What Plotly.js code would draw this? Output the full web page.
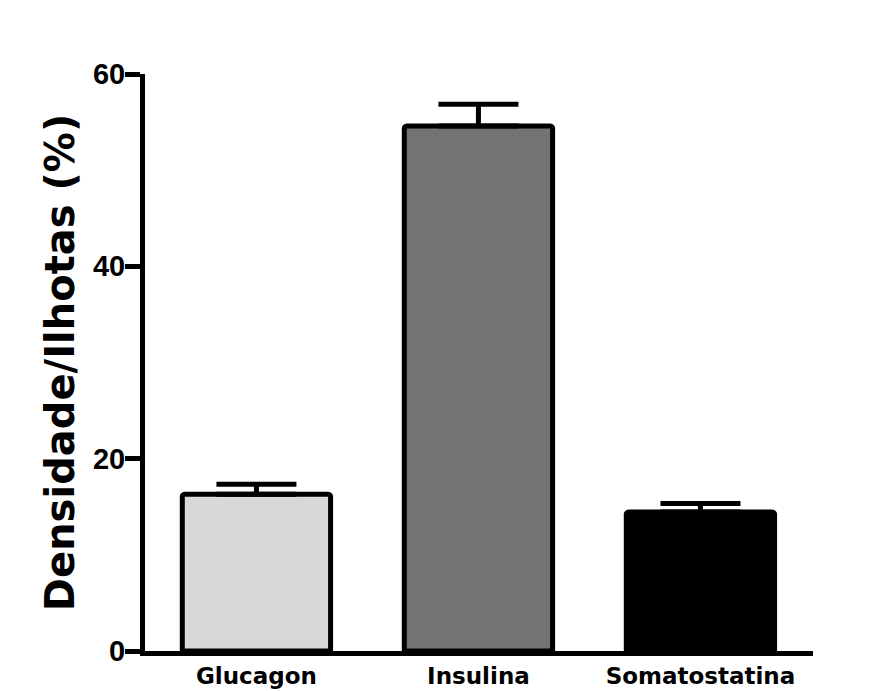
<!DOCTYPE html>
<html>
<head>
<meta charset="utf-8">
<script src="https://cdn.plot.ly/plotly-3.0.1.min.js"></script>
<style>
  html, body { margin: 0; padding: 0; background: #ffffff; }
  #chart { width: 889px; height: 691px; }
</style>
</head>
<body>
<div id="chart"></div>
<script>
// Islet cell density by hormone (mean + upper error)
const categories = ['Glucagon', 'Insulina', 'Somatostatina'];
const densidade = [16.3, 54.6, 14.45];
const erro = [1.05, 2.25, 0.9];
const barColors = ['#d8d8d8', '#737373', '#000000'];
const yTicks = [0, 20, 40, 60];

const trace = {
  type: 'bar',
  x: [0, 1, 2],
  y: densidade,
  width: 0.668,
  marker: {
    color: barColors,
    line: { color: '#000000', width: 5 },
    cornerradius: 3
  },
  error_y: {
    type: 'data',
    symmetric: false,
    array: erro,
    arrayminus: [0, 0, 0],
    color: '#000000',
    thickness: 5,
    width: 40
  },
  hoverinfo: 'none'
};

const layout = {
  width: 889,
  height: 691,
  margin: { l: 145, r: 76, t: 74, b: 40 },
  paper_bgcolor: '#ffffff',
  plot_bgcolor: '#ffffff',
  showlegend: false,
  bargap: 0,
  xaxis: {
    range: [-0.502, 2.507],
    tickvals: [0, 1, 2],
    ticktext: categories,
    showline: true,
    linecolor: '#000000',
    linewidth: 5,
    ticks: '',
    showgrid: false,
    zeroline: false,
    tickfont: { family: 'DejaVu Sans', size: 23, color: '#000000', weight: 'bold' }
  },
  yaxis: {
    range: [0, 60],
    tickvals: yTicks,
    ticktext: yTicks.map(String),
    showline: true,
    linecolor: '#000000',
    linewidth: 5,
    ticks: 'outside',
    ticklen: 15,
    tickwidth: 5,
    tickcolor: '#000000',
    ticklabelstandoff: -6,
    showgrid: false,
    zeroline: false,
    tickfont: { family: 'Liberation Sans', size: 29, color: '#000000', weight: 'bold' },
    title: {
      text: 'Densidade/Ilhotas (%)',
      standoff: 7,
      font: { family: 'DejaVu Sans', size: 40, color: '#000000', weight: 'bold' }
    }
  }
};

Plotly.newPlot('chart', [trace], layout, { displayModeBar: false, staticPlot: true });
</script>
</body>
</html>
